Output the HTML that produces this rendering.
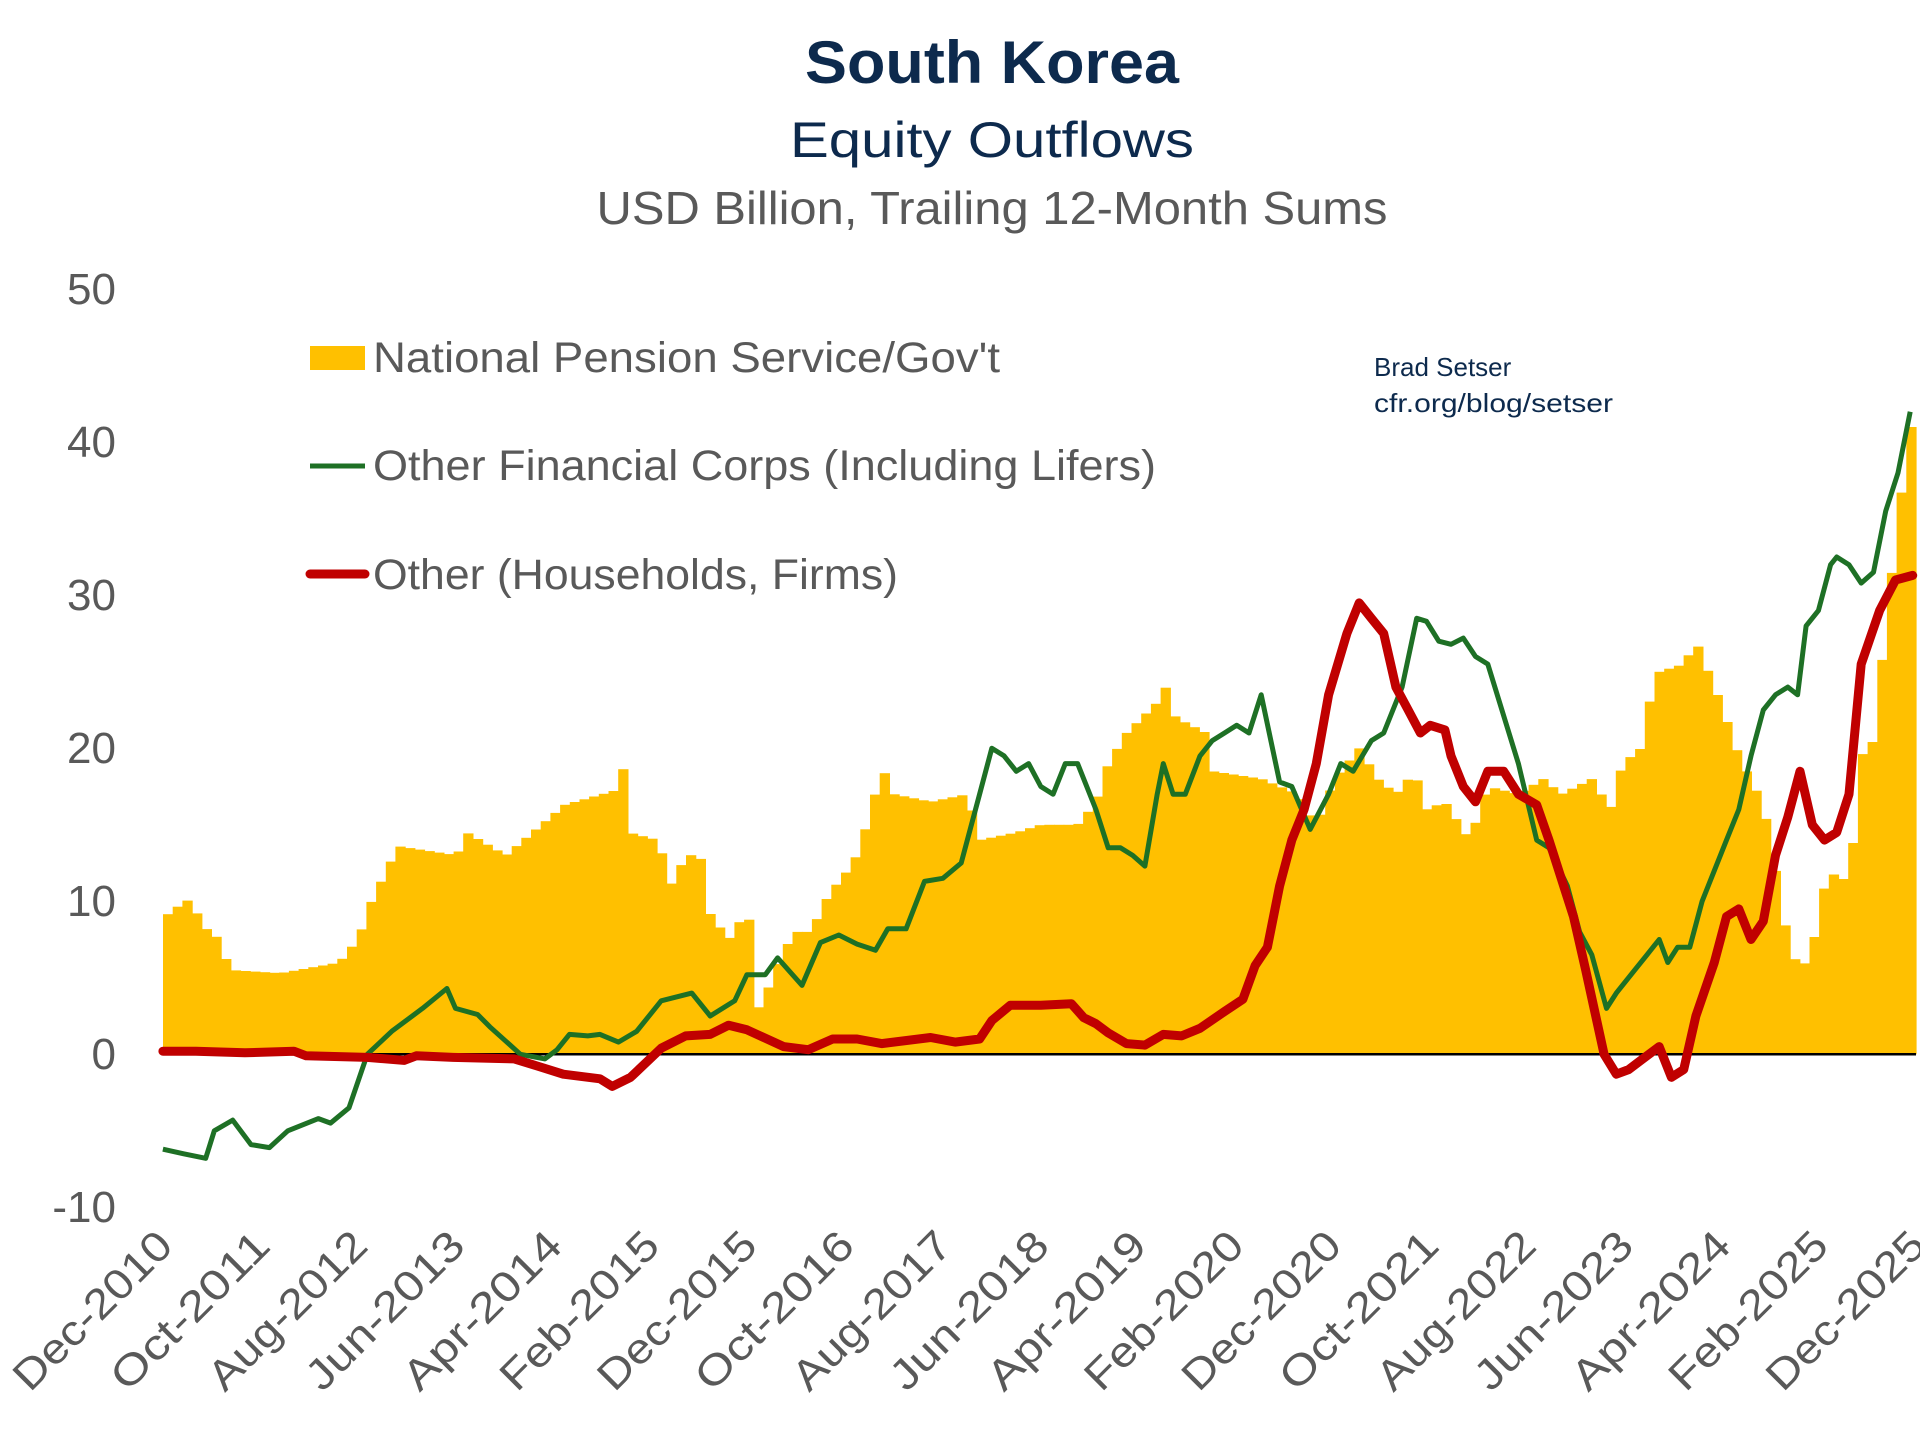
<!DOCTYPE html>
<html><head><meta charset="utf-8"><style>
html,body{margin:0;padding:0;background:#fff;}
svg{display:block;font-family:"Liberation Sans",sans-serif;}
</style></head><body>
<svg id="s" width="1920" height="1440" viewBox="0 0 1920 1440" xmlns="http://www.w3.org/2000/svg">
<text x="992" y="83" text-anchor="middle" font-size="60" font-weight="bold" fill="#0d2a4d" textLength="374" lengthAdjust="spacingAndGlyphs">South Korea</text>
<text x="992" y="157" text-anchor="middle" font-size="50" fill="#0d2a4d" textLength="404" lengthAdjust="spacingAndGlyphs">Equity Outflows</text>
<text x="992" y="224" text-anchor="middle" font-size="46" fill="#595959" textLength="791" lengthAdjust="spacingAndGlyphs">USD Billion, Trailing 12-Month Sums</text>
<g font-size="44" fill="#595959" text-anchor="end">
<text x="116" y="304">50</text><text x="116" y="457">40</text><text x="116" y="610">30</text>
<text x="116" y="763">20</text><text x="116" y="916">10</text><text x="116" y="1069">0</text><text x="116" y="1222">-10</text>
</g>
<g id="bars" fill="#FFC000"></g>
<line x1="163" y1="1054.3" x2="1916" y2="1054.3" stroke="#000" stroke-width="2.5"/>
<polyline id="g" fill="none" stroke="#1e7025" stroke-width="5" stroke-linejoin="round"/>
<polyline id="r" fill="none" stroke="#c00000" stroke-width="9" stroke-linejoin="round" stroke-linecap="round"/>
<rect x="310" y="346" width="55" height="24" fill="#FFC000"/>
<line x1="310" y1="466" x2="365" y2="466" stroke="#1e7025" stroke-width="5"/>
<line x1="310" y1="574" x2="365" y2="574" stroke="#c00000" stroke-width="9" stroke-linecap="round"/>
<g font-size="43" fill="#595959">
<text x="373" y="372" textLength="627" lengthAdjust="spacingAndGlyphs">National Pension Service/Gov't</text>
<text x="373" y="480" textLength="783" lengthAdjust="spacingAndGlyphs">Other Financial Corps (Including Lifers)</text>
<text x="373" y="589" textLength="525" lengthAdjust="spacingAndGlyphs">Other (Households, Firms)</text>
</g>
<text x="1374" y="376" font-size="26" fill="#0d2a4d">Brad Setser</text>
<text x="1374" y="412" font-size="26" fill="#0d2a4d" textLength="239" lengthAdjust="spacingAndGlyphs">cfr.org/blog/setser</text>
<g id="xl" font-size="42" fill="#595959"></g>
</svg>
<script>
var K=1.2245,Z=1054.3,S=15.3;
function interp(p,xd){for(var i=0;i<p.length-1;i++){if(xd<=p[i+1][0]){var t=(xd-p[i][0])/(p[i+1][0]-p[i][0]);return p[i][1]+t*(p[i+1][1]-p[i][1]);}}return p[p.length-1][1];}
var B=[[133,8.8],[141,9.5],[149,9.8],[157,10.3],[165,8],[173,8.4],[181,6.8],[189,5.5],[229,5.3],[277,6],[293,7.6],[301,9.6],[325,13.6],[373,13],[381,14.5],[413,13],[461,16.3],[505,17.3],[509,18.7],[513,14.5],[537,14],[549,11],[557,12.5],[571,13.5],[577,9.5],[595,7.5],[605,8.8],[615,8.8],[620,2.5],[630,5],[648,8],[662,8],[677,10.5],[697,12.5],[710,15.5],[720,18.8],[730,17],[760,16.5],[790,17],[800,14],[830,14.5],[850,15],[880,15],[895,16.5],[905,19],[920,21],[945,23],[952,24],[960,22],[985,21],[990,18.5],[1030,18],[1060,17],[1075,15],[1090,18],[1110,20],[1125,18],[1140,17],[1155,18.5],[1165,16],[1180,16.5],[1200,14],[1215,17.5],[1240,17],[1260,18],[1275,17],[1300,18],[1315,16],[1325,19],[1340,20],[1345,22.5],[1355,25],[1375,25.5],[1385,27],[1395,25],[1405,23],[1420,19.5],[1440,16.3],[1450,12],[1460,7.5],[1470,5.3],[1480,7],[1490,11],[1500,12],[1510,11],[1520,19.5],[1530,20.5],[1540,28],[1550,35],[1560,41]];
var G=[[133,-6.2],[150,-6.5],[168,-6.8],[175,-5],[190,-4.3],[205,-5.9],[220,-6.1],[235,-5],[260,-4.2],[270,-4.5],[285,-3.5],[300,0],[320,1.5],[345,3],[365,4.3],[372,3],[390,2.6],[400,1.8],[425,0],[445,-0.3],[455,0.3],[465,1.3],[480,1.2],[490,1.3],[505,0.8],[520,1.5],[540,3.5],[565,4],[580,2.5],[600,3.5],[610,5.2],[625,5.2],[635,6.3],[655,4.5],[670,7.3],[685,7.8],[700,7.2],[715,6.8],[725,8.2],[740,8.2],[755,11.3],[770,11.5],[785,12.5],[800,17],[810,20],[820,19.5],[830,18.5],[840,19],[850,17.5],[860,17],[870,19],[880,19],[895,16],[905,13.5],[915,13.5],[925,13],[935,12.3],[945,17],[950,19],[958,17],[968,17],[980,19.5],[990,20.5],[1000,21],[1010,21.5],[1020,21],[1030,23.5],[1045,17.8],[1055,17.5],[1070,14.7],[1085,17],[1095,19],[1105,18.5],[1120,20.5],[1130,21],[1145,24],[1157,28.5],[1165,28.3],[1175,27],[1185,26.8],[1195,27.2],[1205,26],[1215,25.5],[1240,19],[1255,14],[1265,13.5],[1280,11],[1290,8],[1300,6.5],[1312,3],[1320,4],[1335,5.5],[1345,6.5],[1355,7.5],[1362,6],[1370,7],[1380,7],[1390,10],[1400,12],[1410,14],[1420,16],[1430,19.5],[1440,22.5],[1450,23.5],[1460,24],[1468,23.5],[1475,28],[1485,29],[1495,32],[1500,32.5],[1510,32],[1520,30.8],[1530,31.5],[1540,35.5],[1550,38],[1560,42]];
var R=[[133,0.2],[160,0.2],[200,0.1],[240,0.2],[250,-0.1],[300,-0.2],[330,-0.4],[340,-0.1],[370,-0.2],[420,-0.3],[440,-0.8],[460,-1.3],[490,-1.6],[500,-2.1],[515,-1.5],[540,0.4],[560,1.2],[580,1.3],[595,1.9],[610,1.6],[640,0.5],[660,0.3],[680,1.0],[700,1.0],[720,0.7],[760,1.1],[780,0.8],[800,1.0],[810,2.2],[825,3.2],[850,3.2],[875,3.3],[885,2.4],[895,2.0],[905,1.4],[920,0.7],[935,0.6],[950,1.3],[965,1.2],[980,1.7],[1000,2.8],[1015,3.6],[1025,5.8],[1035,7.0],[1045,11],[1055,14],[1065,16],[1075,19],[1085,23.5],[1100,27.5],[1110,29.5],[1120,28.5],[1130,27.5],[1140,24],[1150,22.5],[1160,21],[1168,21.5],[1180,21.2],[1185,19.5],[1195,17.5],[1205,16.5],[1215,18.5],[1228,18.5],[1240,17],[1255,16.3],[1265,14],[1275,11.5],[1285,9],[1295,5.5],[1310,0],[1320,-1.3],[1330,-1.0],[1340,-0.4],[1355,0.5],[1365,-1.5],[1375,-1.0],[1385,2.5],[1400,6],[1410,9],[1420,9.5],[1430,7.5],[1440,8.7],[1450,13],[1460,15.5],[1470,18.5],[1480,15],[1490,14],[1500,14.5],[1510,17],[1520,25.5],[1535,29],[1548,31],[1562,31.3]];
var bars=document.getElementById("bars"),h="";
var w=(1916-163)/181;
for(var m=0;m<181;m++){var x0=163+m*w;var xd=(x0+w/2)/K;var v=interp(B,xd);var y=Z-v*S;h+='<rect x="'+x0.toFixed(1)+'" y="'+y.toFixed(1)+'" width="'+(w+0.6).toFixed(1)+'" height="'+(Z-y).toFixed(1)+'"/>';}
bars.innerHTML=h;
function pts(p){return p.map(function(a){return (a[0]*K).toFixed(1)+","+(Z-a[1]*S).toFixed(1);}).join(" ");}
document.getElementById("g").setAttribute("points",pts(G));
document.getElementById("r").setAttribute("points",pts(R));
var L=["Dec-2010","Oct-2011","Aug-2012","Jun-2013","Apr-2014","Feb-2015","Dec-2015","Oct-2016","Aug-2017","Jun-2018","Apr-2019","Feb-2020","Dec-2020","Oct-2021","Aug-2022","Jun-2023","Apr-2024","Feb-2025","Dec-2025"],t="";
for(var i=0;i<L.length;i++){var px=163+i*(1753/18)+12,py=1248;t+='<text x="'+px.toFixed(1)+'" y="'+py+'" text-anchor="end" transform="rotate(-45 '+px.toFixed(1)+' '+py+')" textLength="205" lengthAdjust="spacingAndGlyphs">'+L[i]+'</text>';}
document.getElementById("xl").innerHTML=t;
</script>
</body></html>
